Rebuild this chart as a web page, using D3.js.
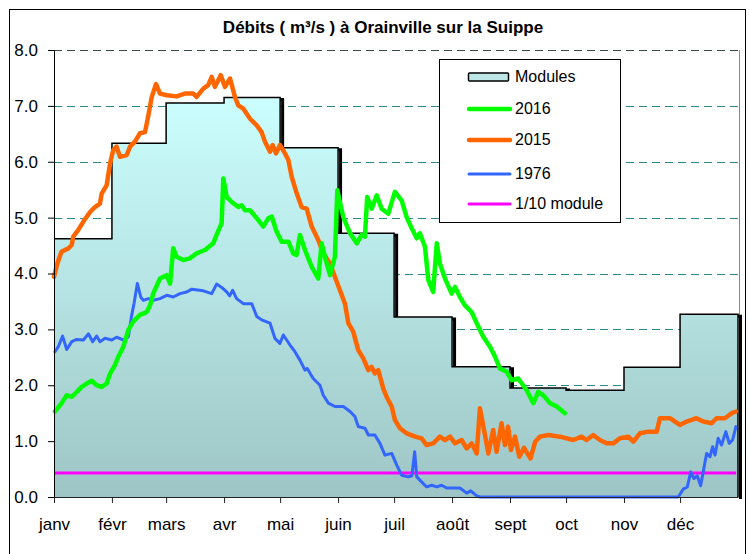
<!DOCTYPE html>
<html>
<head>
<meta charset="utf-8">
<script src="https://cdn.jsdelivr.net/npm/d3@7"></script>
<style>
  html, body { margin: 0; padding: 0; background: #fff; }
  svg { display: block; font-family: "Liberation Sans", Arial, sans-serif; }
</style>
</head>
<body>
<svg id="chart" width="749" height="554"></svg>
<script>
// ---------------- data ----------------
const chartTitle = "Débits ( m³/s ) à Orainville sur la Suippe";
const monthLabels = ["janv","févr","mars","avr","mai","juin","juil","août","sept","oct","nov","déc"];
const monthStartDays = [0,31,60,91,121,152,182,213,244,274,305,335];
const yearLength = 366;
const yTicks = [0,1,2,3,4,5,6,7,8];
const moduleValues = [4.62,6.33,7.05,7.15,6.25,4.72,3.22,2.33,1.95,1.91,2.32,3.27];
const tenthModule = 0.43;
const legendLabels = ["Modules","2016","2015","1976","1/10 module"];

// [day of year, flow m3/s]
const flow2016 = [[0.5,1.53],[4.1,1.68],[6.8,1.82],[9.5,1.79],[12.1,1.88],[14.8,1.97],[17.5,2.03],[20.2,2.08],[22.8,2.00],[25.5,1.97],[28.2,2.03],[30,2.21],[32.6,2.36],[34.4,2.51],[37.1,2.69],[39.8,2.99],[42.4,3.14],[46,3.26],[49.6,3.31],[51.4,3.43],[53.1,3.64],[56.7,3.91],[60.3,3.97],[62.1,3.82],[63.8,4.45],[65.6,4.30],[69.2,4.24],[72.6,4.27],[76.3,4.36],[80.8,4.42],[85.2,4.54],[87,4.69],[89.7,4.90],[90.6,5.70],[92.4,5.37],[95.1,5.28],[98.6,5.19],[100.4,5.22],[102.2,5.13],[104.9,5.13],[108.5,4.99],[112,4.84],[114.7,4.99],[116.5,5.02],[119.1,4.75],[121.8,4.57],[125.4,4.57],[128,4.36],[129.8,4.33],[131.6,4.69],[134.3,4.42],[137.9,4.12],[141.4,3.91],[143.2,4.54],[145.9,4.18],[147.7,3.97],[150.3,4.30],[151.6,5.49],[154.8,5.01],[158.4,4.72],[162,4.54],[164.6,4.69],[166.4,4.66],[167.6,5.37],[170,5.16],[172.7,5.40],[175.3,5.16],[178.9,5.07],[182.4,5.46],[186,5.31],[188.7,5.01],[191.4,4.81],[194.1,4.63],[195.8,4.72],[198.5,4.48],[200.3,3.88],[202.9,3.67],[204.8,4.54],[206.5,4.18],[209.2,3.91],[212.8,3.64],[214.6,3.76],[217.2,3.58],[219.9,3.43],[223.5,3.31],[226.2,3.11],[229.7,2.87],[233.3,2.69],[236,2.51],[238.6,2.30],[242.2,2.24],[244.9,2.09],[248.4,2.12],[252.9,1.91],[256.5,1.68],[259.1,1.88],[261.8,1.82],[265.4,1.68],[269,1.62],[273.4,1.50]];

const flow2015 = [[0,3.94],[1.8,4.18],[4,4.39],[7.7,4.45],[9.5,4.51],[10.3,4.66],[13,4.78],[15.7,4.93],[19.3,5.10],[21.9,5.19],[24.6,5.25],[25.5,5.43],[28.2,5.58],[30,5.97],[31.7,6.21],[33.5,6.27],[35.3,6.09],[38.9,6.12],[40.7,6.27],[43.3,6.36],[46,6.51],[48.7,6.53],[50.5,6.83],[52.3,7.16],[54.6,7.39],[56.7,7.22],[60.3,7.19],[65.6,7.17],[70,7.22],[74.5,7.22],[76.3,7.16],[79.9,7.31],[82.5,7.37],[84.4,7.52],[86.1,7.34],[89.2,7.55],[91.5,7.34],[94.2,7.49],[96.8,7.16],[98.6,7.01],[101.3,6.95],[104.9,6.77],[108.5,6.65],[111.1,6.53],[112.9,6.36],[115.6,6.18],[117,6.30],[118.8,6.15],[120.9,6.30],[123.6,6.15],[125.4,6.03],[127.2,5.73],[129.9,5.43],[132.5,5.19],[135.2,5.16],[137.9,4.84],[141.4,4.60],[144.1,4.36],[147.7,4.18],[150.3,3.94],[153,3.70],[155.7,3.46],[157.5,3.11],[160.1,2.96],[162.8,2.63],[165.5,2.48],[168.2,2.27],[169.9,2.33],[171.7,2.21],[173.5,2.27],[176.2,1.94],[178,1.79],[180.7,1.62],[182.4,1.38],[185.1,1.23],[188.7,1.14],[193.2,1.08],[196.7,1.05],[199.4,0.93],[202.9,0.96],[206.5,1.08],[209.2,1.02],[211.9,1.08],[214.6,0.96],[218.1,1.02],[220.8,0.87],[223.5,0.96],[226.2,0.78],[227.9,1.59],[230.1,1.20],[232.4,0.78],[235,1.20],[236.8,0.81],[239.5,1.32],[241.3,0.93],[243,1.26],[244.5,0.84],[246.7,1.08],[249,0.72],[251.5,0.88],[255,0.69],[257.5,0.99],[260,1.08],[264.5,1.11],[270.7,1.08],[277.8,1.02],[282.3,1.08],[285,1.02],[288.5,1.11],[292.1,1.02],[295.7,0.96],[299.3,0.96],[302.8,1.05],[307.3,1.08],[310,0.99],[313.5,1.14],[318,1.17],[322.5,1.17],[324.2,1.41],[329.6,1.41],[334.9,1.29],[338.5,1.35],[341.2,1.38],[343.8,1.41],[347.4,1.35],[351.9,1.32],[354.5,1.41],[359,1.41],[362.6,1.50],[364.9,1.53]];

const flow1976 = [[0.5,2.60],[2.3,2.69],[4.6,2.88],[6.8,2.64],[9.5,2.78],[12.1,2.82],[15.7,2.81],[18.4,2.92],[20.7,2.78],[22.8,2.88],[24.6,2.78],[27.3,2.84],[30.9,2.81],[33.5,2.86],[37.1,2.81],[39.8,2.87],[41.6,3.26],[42.8,3.46],[44.6,3.82],[46.4,3.58],[47.8,3.52],[50.5,3.55],[53.1,3.52],[56.7,3.55],[60.3,3.61],[63.8,3.58],[67.4,3.64],[71,3.67],[73.7,3.72],[79.9,3.69],[84.4,3.64],[87,3.81],[89.7,3.75],[92.4,3.67],[94,3.60],[95.6,3.70],[97.7,3.55],[101.3,3.46],[105.8,3.46],[108.5,3.23],[111.1,3.17],[115.6,3.11],[118.2,2.84],[120.9,2.75],[122.7,2.90],[126.3,2.72],[128.9,2.60],[131.6,2.45],[134.3,2.27],[135.5,2.30],[138.7,2.12],[142.3,2.00],[144.1,1.82],[146.8,1.68],[150.3,1.62],[154.8,1.62],[158.4,1.53],[161,1.44],[162.8,1.26],[166.4,1.23],[168.2,1.11],[171.7,1.11],[174.4,0.96],[177.1,0.75],[180.7,0.78],[183.4,0.57],[186,0.39],[189.6,0.36],[191.5,0.38],[193,0.81],[194.1,0.36],[196.7,0.27],[199.4,0.18],[202.1,0.21],[204.8,0.18],[207.4,0.21],[210.1,0.16],[214.6,0.16],[217.2,0.16],[220.8,0.07],[223,0.11],[226.2,0.02],[228,0],[334,0],[336.7,0.14],[338.9,0.18],[340.7,0.45],[342.4,0.33],[344.2,0.38],[346,0.20],[347.4,0.45],[349.2,0.78],[351,0.72],[352.4,0.90],[353.7,0.75],[355.4,1.05],[357.2,0.93],[359.5,1.17],[361.3,0.96],[363.1,1.02],[364.9,1.26]];

// ---------------- layout ----------------
const svg = d3.select("#chart");
const plot = {left: 54, right: 738, top: 50, bottom: 497};
const x = d3.scaleLinear().domain([0, yearLength]).range([plot.left, plot.right]);
const y = d3.scaleLinear().domain([0, 8]).range([plot.bottom, plot.top]);

svg.append("rect").attr("width", 749).attr("height", 554).attr("fill", "#fff");
// chart frame
svg.append("rect").attr("x", 9.5).attr("y", 9.5).attr("width", 736).attr("height", 580)
  .attr("fill", "none").attr("stroke", "#000").attr("stroke-width", 1);

// gradient
const defs = svg.append("defs");
const grad = defs.append("linearGradient").attr("id", "modGrad")
  .attr("gradientUnits", "userSpaceOnUse")
  .attr("x1", 0).attr("x2", 0).attr("y1", y(7.2)).attr("y2", y(0));
grad.append("stop").attr("offset", "0%").attr("stop-color", "#ccffff");
grad.append("stop").attr("offset", "100%").attr("stop-color", "#9ec5c5");

// title
svg.append("text").attr("x", 383).attr("y", 33).attr("text-anchor", "middle")
  .attr("font-size", 17).attr("font-weight", "bold").text(chartTitle);

// gridlines
svg.append("g").selectAll("line").data(yTicks.filter(d => d > 0)).join("line")
  .attr("x1", plot.left).attr("x2", plot.right)
  .attr("y1", d => Math.round(y(d)) + 0.5).attr("y2", d => Math.round(y(d)) + 0.5)
  .attr("stroke", d => d === 8 ? "#3a4a4a" : "#2a8a8a")
  .attr("stroke-width", 1).attr("stroke-dasharray", "8,5");

// plot right border
svg.append("line").attr("x1", plot.right + 1.5).attr("x2", plot.right + 1.5)
  .attr("y1", plot.top).attr("y2", plot.bottom).attr("stroke", "#888").attr("stroke-width", 1);

// modules step area
const modulePoints = monthStartDays.map((d, i) => [d, moduleValues[i]]);
modulePoints.push([yearLength, moduleValues[moduleValues.length - 1]]);
const area = d3.area().curve(d3.curveStepAfter)
  .x(d => x(d[0])).y0(y(0)).y1(d => y(d[1]));
const outline = d3.line().curve(d3.curveStepAfter).x(d => x(d[0])).y(d => y(d[1]));
const outlinePts = modulePoints.concat([[yearLength, 0]]);

svg.append("path").attr("d", outline(outlinePts))
  .attr("transform", "translate(2.5,2)")
  .attr("fill", "none").attr("stroke", "#000").attr("stroke-width", 3);
svg.append("path").attr("d", area(modulePoints)).attr("fill", "url(#modGrad)");
svg.append("path").attr("d", outline(outlinePts))
  .attr("fill", "none").attr("stroke", "#000").attr("stroke-width", 1.5);

// 1/10 module
svg.append("line").attr("x1", x(0)).attr("x2", x(yearLength - 1))
  .attr("y1", y(tenthModule)).attr("y2", y(tenthModule))
  .attr("stroke", "#ff00ff").attr("stroke-width", 3);

// series
const line = d3.line().x(d => x(d[0])).y(d => y(d[1]));
function drawSeries(data, color, width) {
  svg.append("path").attr("d", line(data)).attr("fill", "none")
    .attr("stroke", color).attr("stroke-width", width)
    .attr("stroke-linejoin", "round").attr("stroke-linecap", "round");
}
drawSeries(flow1976, "#3366ff", 3);
drawSeries(flow2015, "#ff6600", 4.5);
drawSeries(flow2016, "#00ff00", 4.5);

// axes
const yAxis = d3.axisLeft(y).tickValues(yTicks).tickFormat(d3.format(".1f")).tickSize(6).tickPadding(10);
const gy = svg.append("g").attr("transform", `translate(${plot.left},0)`).call(yAxis);
gy.selectAll("text").attr("font-size", 17).attr("fill", "#000")
  .attr("font-family", "'Liberation Sans', Arial, sans-serif");
gy.selectAll("line, path").attr("stroke", "#000");

const xAxis = d3.axisBottom(x).tickValues(monthStartDays).tickFormat((d, i) => monthLabels[i])
  .tickSize(6).tickSizeOuter(0).tickPadding(15);
const gx = svg.append("g").attr("transform", `translate(0,${plot.bottom})`).call(xAxis);
gx.selectAll("text").attr("font-size", 17).attr("fill", "#000")
  .attr("font-family", "'Liberation Sans', Arial, sans-serif");
gx.selectAll("line, path").attr("stroke", "#222");

// legend
const lg = svg.append("g");
lg.append("rect").attr("x", 439.5).attr("y", 59.5).attr("width", 181).attr("height", 163)
  .attr("fill", "#fff").attr("stroke", "#000").attr("stroke-width", 1);
const legendY = [82, 114, 145, 179, 209];
lg.append("rect").attr("x", 468.5).attr("y", 73).attr("width", 40).attr("height", 8).attr("rx", 1)
  .attr("fill", "#bfe7e7").attr("stroke", "#000").attr("stroke-width", 1.5);
const legendLines = [
  {color: "#00ff00", w: 4.5},
  {color: "#ff6600", w: 4.5},
  {color: "#3366ff", w: 3},
  {color: "#ff00ff", w: 3}
];
legendLines.forEach((l, i) => {
  const yy = legendY[i + 1] - 5;
  lg.append("line").attr("x1", 469).attr("x2", 510).attr("y1", yy).attr("y2", yy)
    .attr("stroke", l.color).attr("stroke-width", l.w).attr("stroke-linecap", "round");
});
legendLabels.forEach((t, i) => {
  lg.append("text").attr("x", 515).attr("y", legendY[i]).attr("font-size", 16).text(t);
});
</script>
</body>
</html>
